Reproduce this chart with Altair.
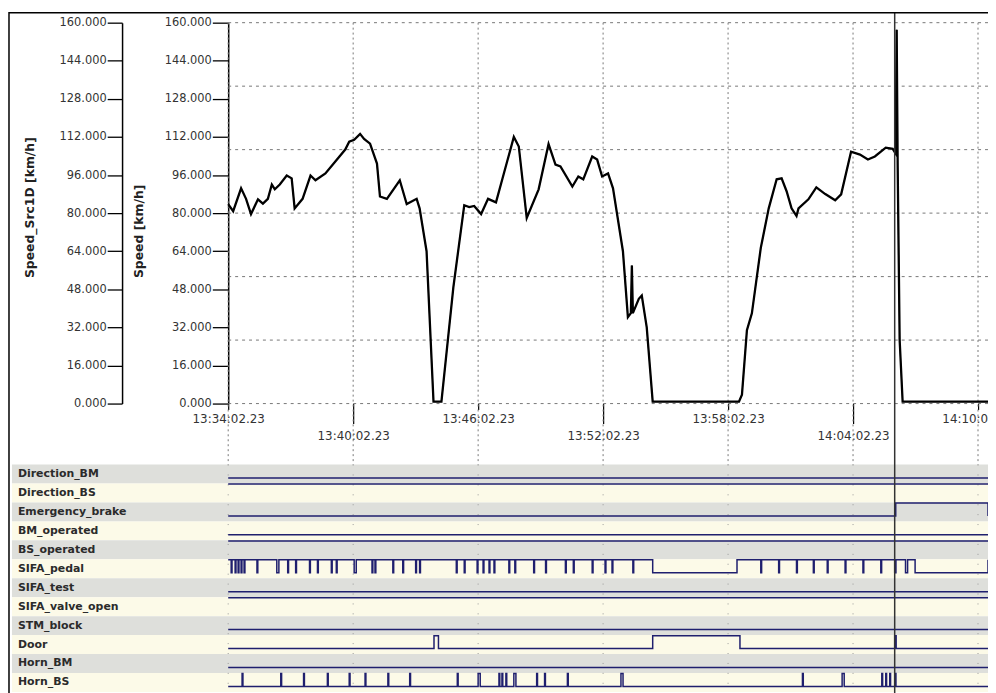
import altair as alt
import pandas as pd

# ---------------- data ----------------
# time in minutes after 13:34:02.23
tick_minutes = [0, 6, 12, 18, 24, 30, 36]
tick_labels = ["13:34:02.23", "13:40:02.23", "13:46:02.23", "13:52:02.23",
               "13:58:02.23", "14:04:02.23", "14:10:02.23"]
x_max = 36.48
cursor_minute = [32.0]

speed_ticks = [0, 16, 32, 48, 64, 80, 96, 112, 128, 144, 160]
speed_grid = [0, 26.667, 53.333, 80, 106.667, 133.333, 160]

speed_t = [0.0, 0.238, 0.619, 0.857, 1.095, 1.429, 1.667, 1.905, 2.095, 2.238,
           2.476, 2.810, 3.048, 3.190, 3.571, 3.952, 4.190, 4.667, 5.143, 5.619,
           5.810, 6.048, 6.333, 6.524, 6.810, 7.143, 7.286, 7.619, 8.238, 8.571,
           9.048, 9.190, 9.524, 9.857, 10.238, 10.810, 11.333, 11.571, 11.810, 12.143,
           12.476, 12.857, 13.714, 13.952, 14.333, 14.905, 15.381, 15.714, 15.952, 16.524,
           16.810, 17.048, 17.476, 17.714, 17.952, 18.238, 18.476, 18.952, 19.190, 19.333,
           19.381, 19.429, 19.714, 19.857, 20.095, 20.381, 24.524, 24.667, 24.905, 25.143,
           25.571, 25.952, 26.333, 26.571, 26.810, 27.048, 27.286, 27.381, 27.857, 28.238,
           28.667, 29.143, 29.429, 29.905, 30.333, 30.714, 31.048, 31.571, 31.905, 32.048,
           32.095, 32.143, 32.238, 32.381, 36.48]
speed_v = [83.8, 80.8, 90.4, 86.0, 79.6, 85.8, 84.0, 86.0, 92.0, 90.0,
           92.0, 95.8, 94.6, 82.0, 86.0, 95.8, 93.8, 96.7, 101.7, 106.7,
           110.0, 110.8, 113.3, 111.2, 109.2, 100.8, 87.0, 86.0, 93.8, 83.8,
           86.0, 82.0, 64.0, 0.8, 0.8, 48.8, 83.3, 82.5, 83.0, 79.6,
           86.0, 84.5, 112.0, 108.0, 78.0, 90.0, 109.0, 100.4, 99.6, 91.2,
           95.4, 94.2, 103.8, 102.5, 95.4, 96.7, 90.4, 64.0, 36.3, 38.0,
           58.0, 38.0, 44.0, 45.4, 32.0, 0.8, 0.8, 3.75, 30.8, 37.9,
           65.4, 82.0, 94.2, 94.6, 89.2, 82.0, 78.8, 82.0, 85.8, 90.8,
           88.0, 85.4, 87.9, 105.8, 104.6, 102.5, 103.8, 107.5, 107.0, 105.0,
           157.0, 100.0, 26.7, 0.8, 0.8]

signal_names = ["Direction_BM", "Direction_BS", "Emergency_brake", "BM_operated",
                "BS_operated", "SIFA_pedal", "SIFA_test", "SIFA_valve_open",
                "STM_block", "Door", "Horn_BM", "Horn_BS"]
signal_base = [0, 1, 0, 0, 1, 1, 0, 1, 0, 0, 0, 0]

emergency_start = [32.05]
emergency_len = [10.0]

sifa_start = [0.143, 0.333, 0.476, 0.619, 0.762, 1.381, 2.333, 2.857, 3.238, 3.905,
              4.286, 4.952, 5.190, 6.048, 6.905, 7.048, 7.905, 8.381, 9.0, 9.190,
              10.952, 11.333, 11.952, 12.238, 12.524, 12.762, 13.476, 13.762, 14.667, 15.238,
              16.190, 16.571, 17.476, 18.095, 18.429, 19.429, 20.381, 25.571, 26.429, 27.286,
              28.095, 28.762, 29.619, 30.476, 31.333, 32.0, 32.52, 32.98]
sifa_len = [0.04, 0.04, 0.04, 0.04, 0.04, 0.04, 0.1, 0.04, 0.04, 0.04,
            0.04, 0.04, 0.04, 0.1, 0.04, 0.04, 0.04, 0.04, 0.04, 0.04,
            0.04, 0.04, 0.04, 0.04, 0.04, 0.04, 0.04, 0.04, 0.04, 0.04,
            0.04, 0.04, 0.04, 0.04, 0.04, 0.04, 4.048, 0.04, 0.04, 0.04,
            0.04, 0.04, 0.04, 0.04, 0.04, 0.06, 0.1, 10.0]

door_start = [9.881, 20.381, 32.0]
door_len = [0.214, 4.19, 0.07]

horn_bs_start = [0.667, 2.524, 3.619, 4.762, 5.810, 6.571, 7.667, 8.714, 11.0, 12.0,
                 13.0, 13.143, 13.333, 13.714, 14.810, 15.190, 16.286, 18.857, 27.571, 29.476,
                 31.381, 31.571, 31.762, 32.0]
horn_bs_len = [0.04, 0.04, 0.04, 0.04, 0.04, 0.04, 0.04, 0.04, 0.04, 0.1,
               0.04, 0.04, 0.04, 0.1, 0.04, 0.04, 0.04, 0.1, 0.04, 0.1,
               0.04, 0.04, 0.04, 0.06]

pulses = {"Emergency_brake": (emergency_start, emergency_len),
          "SIFA_pedal": (sifa_start, sifa_len),
          "Door": (door_start, door_len),
          "Horn_BS": (horn_bs_start, horn_bs_len)}

# ---------------- tables ----------------
W, H = 766, 673
SPEED_BOTTOM = 384
PANEL_TOP = 445.5

speed_df = pd.DataFrame({"t": speed_t, "v": speed_v})

rows = []
idx = 0
for r, name in enumerate(signal_names):
    b = signal_base[r]
    pts = [(0.0, b)]
    if name in pulses:
        for s, L in zip(*pulses[name]):
            pts.append((s, 1 - b))
            pts.append((min(s + L, x_max), b))
    if pts[-1][0] < x_max:
        pts.append((x_max, pts[-1][1]))
    for t, v in pts:
        rows.append({"t": t, "sig": name, "y": r + 0.71 - 0.68 * v, "i": idx})
        idx += 1
sig_df = pd.DataFrame(rows)

band_df = pd.DataFrame({"row": list(range(12)), "row2": list(range(1, 13)),
                        "fill": ["#dedfdb" if i % 2 == 0 else "#fcfae8" for i in range(12)],
                        "mid": [i + 0.5 for i in range(12)], "name": signal_names})

# ---------------- scales / axes ----------------
FONT = "DejaVu Sans"
sx = alt.Scale(domain=[0, x_max], nice=False, zero=False)
sy_speed = alt.Scale(domain=[0, 160], range=[SPEED_BOTTOM, 0], nice=False, zero=False)
sy_sig = alt.Scale(domain=[0, 12], range=[PANEL_TOP, 674.7], nice=False, zero=False)

label_expr = "[" + ",".join("'%s'" % s for s in tick_labels) + "][round(datum.value/6)]"
odd_test = "round(datum.value/6) % 2 == 1"

x_axis = alt.Axis(values=tick_minutes, labelExpr=label_expr, offset=SPEED_BOTTOM - H,
                  domain=False, grid=False, ticks=True, tickColor="black", tickWidth=1.2,
                  tickSize={"condition": {"test": odd_test, "value": 20}, "value": 6},
                  labelPadding={"condition": {"test": odd_test, "value": 7}, "value": 4},
                  labelFont=FONT, labelFontSize=12, labelColor="#333",
                  labelFlush=False, labelOverlap=False, title=None)


def y_axis(title, offset, tick, tx):
    return alt.Axis(orient="left", offset=offset, values=speed_ticks, format=".3f",
                    tickSize=tick, labelPadding=1, tickColor="black", tickWidth=1.3,
                    domainColor="black", domainWidth=1.5, grid=False,
                    labelFont=FONT, labelFontSize=11.5, labelColor="#333",
                    labelFlush=False, labelOverlap=False,
                    title=title, titleFont=FONT, titleFontSize=12.5, titleFontWeight="bold",
                    titleColor="#222", titleAngle=270, titleAlign="left",
                    titleBaseline="middle", titleX=tx, titleY=257)


one = pd.DataFrame({"k": [0]})

frame = alt.Chart(one).mark_rect(filled=False, stroke="black", strokeWidth=1.5).encode(
    x=alt.value(-221), x2=alt.value(W + 20), y=alt.value(-10), y2=alt.value(H + 20))

bands = alt.Chart(band_df).mark_rect().encode(
    x=alt.value(-218), x2=alt.value(W + 20),
    y=alt.Y("row:Q", scale=sy_sig, axis=None), y2="row2:Q",
    color=alt.Color("fill:N", scale=None))

labels = alt.Chart(band_df).mark_text(align="left", baseline="middle", font=FONT,
                                      fontSize=11, fontWeight="bold", color="#2b2b2b").encode(
    x=alt.value(-212), y=alt.Y("mid:Q", scale=sy_sig, axis=None), text="name:N")

grid_df = pd.DataFrame({"t": tick_minutes})
vgrid = alt.Chart(grid_df).mark_rule(
    color="#777", strokeWidth=1, strokeDash=[2, 3]).encode(
    x=alt.X("t:Q", scale=sx, axis=x_axis), y=alt.value(0), y2=alt.value(PANEL_TOP))

vgrid_panel = alt.Chart(grid_df).mark_rule(
    color="#999", strokeWidth=1, strokeDash=[1, 9]).encode(
    x=alt.X("t:Q", scale=sx, axis=x_axis), y=alt.value(PANEL_TOP), y2=alt.value(H))

hgrid = alt.Chart(pd.DataFrame({"v": speed_grid})).mark_rule(
    color="#777", strokeWidth=1, strokeDash=[3, 4]).encode(
    y=alt.Y("v:Q", scale=sy_speed, axis=None), x=alt.value(0), x2=alt.value(W + 20))

signals = alt.Chart(sig_df).mark_line(interpolate="step-after", color="#1f1f6e",
                                      strokeWidth=1.5).encode(
    x=alt.X("t:Q", scale=sx, axis=x_axis), y=alt.Y("y:Q", scale=sy_sig, axis=None),
    detail="sig:N", order="i:Q")

speed_src = alt.Chart(speed_df).mark_line(color="#444", strokeWidth=1).encode(
    x=alt.X("t:Q", scale=sx, axis=x_axis),
    y=alt.Y("v:Q", scale=sy_speed, axis=y_axis("Speed_Src1D [km/h]", 107, 15, -93)))

speed = alt.Chart(speed_df).mark_line(color="black", strokeWidth=2.3).encode(
    x=alt.X("t:Q", scale=sx, axis=x_axis),
    y=alt.Y("v:Q", scale=sy_speed, axis=y_axis("Speed [km/h]", 0, 16, -90)))

cursor = alt.Chart(pd.DataFrame({"t": cursor_minute})).mark_rule(
    color="#333", strokeWidth=1.5).encode(
    x=alt.X("t:Q", scale=sx, axis=x_axis), y=alt.value(-10), y2=alt.value(H + 20))

chart = alt.layer(bands, vgrid, vgrid_panel, hgrid, signals, speed_src, speed, cursor,
                  frame, labels).resolve_scale(
    y="independent").properties(
    width=W, height=H, autosize=alt.AutoSizeParams(type="none"),
    padding={"left": 222, "top": 12, "right": 0, "bottom": 0},
    background="white").configure_view(stroke=None)

chart.save("out.html", embed_options={"renderer": "svg", "actions": False})
